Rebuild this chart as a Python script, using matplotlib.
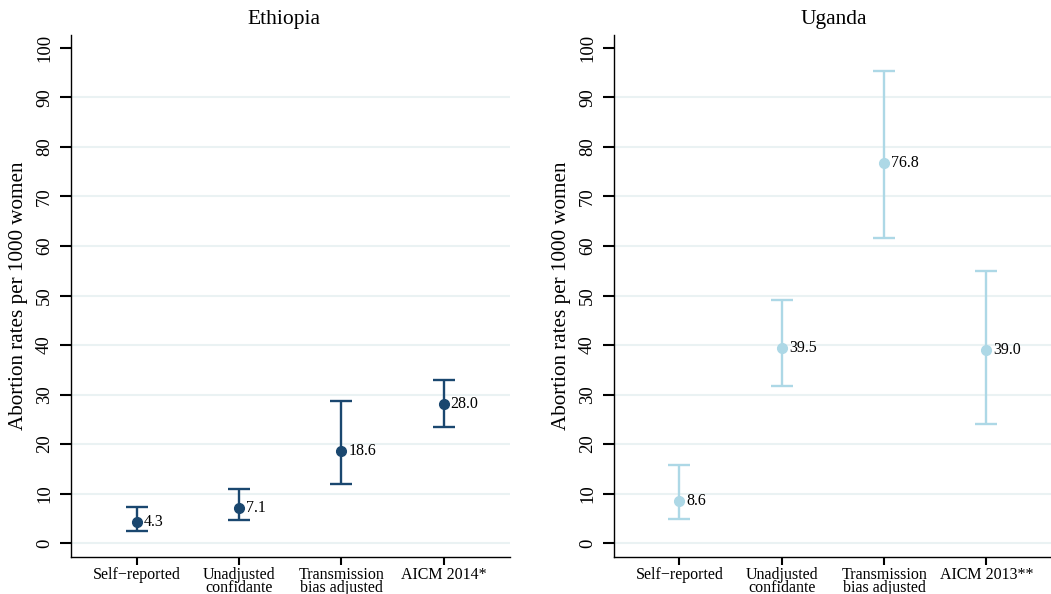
import matplotlib
matplotlib.use("Agg")
import matplotlib.pyplot as plt

categories_eth = ["Self\u2212reported", "Unadjusted\nconfidante", "Transmission\nbias adjusted", "AICM 2014*"]
categories_uga = ["Self\u2212reported", "Unadjusted\nconfidante", "Transmission\nbias adjusted", "AICM 2013**"]

eth_est = [4.3, 7.1, 18.6, 28.0]
eth_lo = [2.5, 4.6, 12.0, 23.5]
eth_hi = [7.3, 11.0, 28.8, 33.0]

uga_est = [8.6, 39.5, 76.8, 39.0]
uga_lo = [4.8, 31.8, 61.6, 24.0]
uga_hi = [15.7, 49.0, 95.4, 55.0]

yticks = list(range(0, 101, 10))

plt.rcParams['font.family'] = ['Liberation Serif', 'DejaVu Serif']

fig = plt.figure(figsize=(10.51, 5.94), dpi=100)
ax1 = fig.add_axes([0.0676, 0.0623, 0.4177, 0.8787])
ax2 = fig.add_axes([0.5842, 0.0623, 0.4177, 0.8787])

panels = [
    (ax1, "Ethiopia", categories_eth, eth_est, eth_lo, eth_hi, "#1a476f", 0.485),
    (ax2, "Uganda", categories_uga, uga_est, uga_lo, uga_hi, "#add8e6", 0.5),
]

for ax, title, cats, est, lo, hi, col, tx in panels:
    x = list(range(1, len(cats) + 1))
    yerr = [[e - l for e, l in zip(est, lo)], [h - e for e, h in zip(est, hi)]]
    for g in yticks[:-1]:
        ax.axhline(g, color="#eaf2f3", lw=1.5, zorder=0)
    ax.errorbar(x, est, yerr=yerr, fmt="o", color=col, ecolor=col,
                elinewidth=1.7, capsize=8, capthick=1.7, markersize=7, zorder=3)
    for xi, e in zip(x, est):
        ax.annotate(f"{e:.1f}", (xi, e), xytext=(5, 0), textcoords="offset points",
                    ha="left", va="center", fontsize=11.5)
    ax.set_xlim(0.36, 4.65)
    ax.set_ylim(-2.8, 102.6)
    ax.set_yticks(yticks)
    ax.set_yticklabels([str(t) for t in yticks], rotation=90, va="center", fontsize=13.5)
    ax.set_xticks(x)
    ax.set_xticklabels(cats, fontsize=11.5, linespacing=0.72)
    ax.tick_params(axis="y", length=8, width=1.5, pad=5)
    ax.tick_params(axis="x", length=6, width=1.5, pad=1.5)
    for s in ["top", "right"]:
        ax.spines[s].set_visible(False)
    for s in ["left", "bottom"]:
        ax.spines[s].set_linewidth(1.0)
    ax.set_ylabel("Abortion rates per 1000 women", fontsize=15.2, labelpad=6)
    ax.set_title(title, fontsize=15.5, pad=8, x=tx)

fig.savefig("out.png", dpi=100, facecolor="white")
